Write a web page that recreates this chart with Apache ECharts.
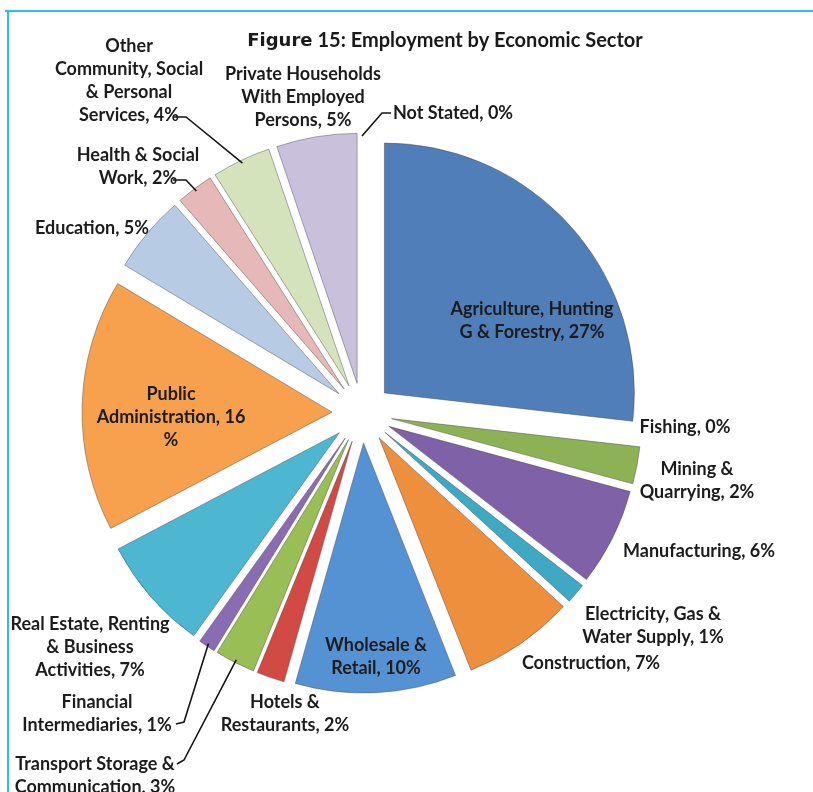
<!DOCTYPE html>
<html>
<head>
<meta charset="utf-8">
<script src="https://cdn.jsdelivr.net/npm/echarts@6/dist/echarts.min.js"></script>
<style>
  html, body { margin: 0; padding: 0; background: #ffffff; }
  #chart { width: 813px; height: 792px; }
</style>
</head>
<body>
<div id="chart"></div>
<script>
// Employment by economic sector, share of employed persons (%)
const sectors = [
  'Agriculture, Hunting G & Forestry', 'Fishing', 'Mining & Quarrying', 'Manufacturing',
  'Electricity, Gas & Water Supply', 'Construction', 'Wholesale & Retail',
  'Hotels & Restaurants', 'Transport Storage & Communication', 'Financial Intermediaries',
  'Real Estate, Renting & Business Activities', 'Public Administration', 'Education',
  'Health & Social Work', 'Other Community, Social & Personal Services',
  'Private Households With Employed Persons', 'Not Stated'
];
const shares = [26.8, 0, 2.4, 6.3, 1.3, 7.2, 10.4, 1.8, 2.6, 1.1, 7.4, 16.3, 5.0, 2.4, 3.8, 5.2, 0];

// Label wording, broken over lines
const labelNames = [
  'Agriculture, Hunting\nG & Forestry', 'Fishing', 'Mining &\nQuarrying', 'Manufacturing',
  'Electricity, Gas &\nWater Supply', 'Construction', 'Wholesale &\nRetail',
  'Hotels &\nRestaurants', 'Transport Storage &\nCommunication', 'Financial\nIntermediaries',
  'Real Estate, Renting\n& Business\nActivities', 'Public\nAdministration', 'Education',
  'Health & Social\nWork', 'Other\nCommunity, Social\n& Personal\nServices',
  'Private Households\nWith Employed\nPersons', 'Not Stated'
];

const colors = [
  '#4F7EB8', '#C0504D', '#8DB255', '#7E61A6', '#3FA9C4', '#EE8F3E', '#5592D3',
  '#D24A44', '#98BE55', '#8A6CB3', '#4DB6D0', '#F7A04E', '#B7CBE5',
  '#E6B8B7', '#D5E3BC', '#C9C0DC', '#B6DDE8'
];

// Pie geometry
const PIE = { cx: 362, cy: 413, r: 250, offset: 30 };

// Centre of each label's text block
const labelSpots = [
  [532, 321], [685, 427], [697, 481], [699, 551], [653, 626], [591, 663], [376, 657],
  [285, 714], [95, 776], [97, 714], [90, 647], [171, 417], [92, 228],
  [138, 167], [129, 81], [303, 97], [453, 113]
];
// Leader lines: bend point and end point near the text, for the slices that have one
const leaders = {
  8: [[184, 760], [177, 764]],
  9: [[184, 722], [176, 724]],
  13: [[186, 180], [173, 180]],
  14: [[186, 117], [174, 117]],
  16: [[382, 113], [391, 113]]
};

const total = shares.reduce((a, b) => a + b, 0);
const pct = i => Math.round(shares[i] / total * 100);

// Point on the outer edge of an exploded slice, at its middle angle
function edgePoint(i) {
  let before = 0;
  for (let k = 0; k < i; k++) before += shares[k];
  const theta = (before + shares[i] / 2) / total * 2 * Math.PI;
  const d = PIE.r + PIE.offset - 3;
  return [PIE.cx + d * Math.sin(theta), PIE.cy - d * Math.cos(theta)];
}

const labelFont = 'Lato, "Open Sans", sans-serif';

const labelGraphics = shares.map((v, i) => ({
  type: 'text',
  x: labelSpots[i][0],
  y: labelSpots[i][1],
  z: 10,
  style: {
    text: labelNames[i] + ', ' + pct(i) + (i === 11 ? '\n%' : '%'),
    fontFamily: labelFont,
    fontWeight: 'bold',
    fontSize: 18,
    lineHeight: 23,
    fill: '#1c1c1c',
    align: 'center',
    verticalAlign: 'middle'
  }
}));

const leaderGraphics = Object.keys(leaders).map(k => {
  const i = Number(k);
  return {
    type: 'polyline',
    z: 10,
    shape: { points: [edgePoint(i), leaders[i][0], leaders[i][1]] },
    style: { stroke: '#151515', lineWidth: 1.6, fill: null }
  };
});

const chart = echarts.init(document.getElementById('chart'), null, { renderer: 'canvas' });

const outline = { borderColor: 'rgba(70,70,70,0.45)', borderWidth: 1 };

chart.setOption({
  animation: false,
  title: {
    text: '{a|Figure} {b|15: Employment by Economic Sector}',
    left: 440,
    top: 26,
    textAlign: 'center',
    textStyle: {
      rich: {
        a: { fontFamily: '"DejaVu Sans", sans-serif', fontWeight: 'bold', fontSize: 18, color: '#1a1a1a' },
        b: { fontFamily: labelFont, fontWeight: 'bold', fontSize: 20, color: '#1a1a1a' }
      }
    }
  },
  graphic: [
    { type: 'line', shape: { x1: 5, y1: 11, x2: 813, y2: 11 }, style: { stroke: '#2EBBEF', lineWidth: 2 } },
    { type: 'line', shape: { x1: 8, y1: 11, x2: 8, y2: 792 }, style: { stroke: '#2EBBEF', lineWidth: 2 } }
  ].concat(leaderGraphics, labelGraphics),
  series: [{
    type: 'pie',
    center: [PIE.cx, PIE.cy],
    radius: PIE.r,
    startAngle: 90,
    clockwise: true,
    selectedMode: 'multiple',
    selectedOffset: PIE.offset,
    avoidLabelOverlap: false,
    emphasis: { disabled: true },
    label: { show: false },
    labelLine: { show: false },
    data: shares.map((v, i) => {
      const border = v > 0 ? outline : { borderWidth: 0 };
      return {
        name: sectors[i],
        value: v,
        selected: true,
        itemStyle: Object.assign({ color: colors[i] }, border),
        select: { itemStyle: Object.assign({ color: colors[i] }, border) }
      };
    })
  }]
});
</script>
</body>
</html>
